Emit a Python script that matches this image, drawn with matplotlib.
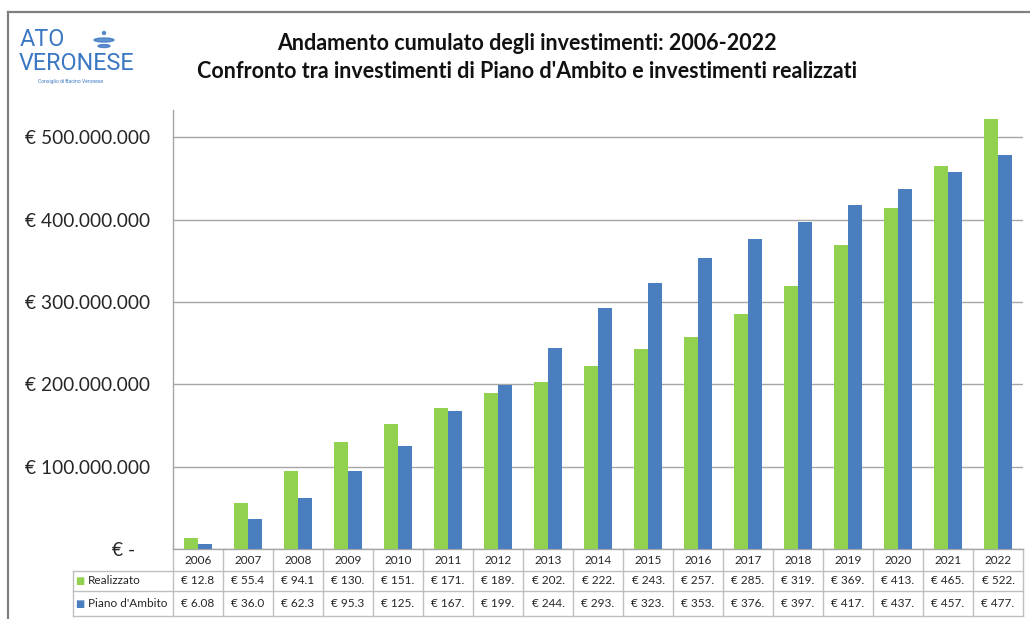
import matplotlib
matplotlib.use("Agg")
import matplotlib.pyplot as plt
from matplotlib.patches import Ellipse
from matplotlib.lines import Line2D
from matplotlib.ticker import FuncFormatter
import numpy as np

# ---- data (millions of euro, cumulative) ----
years = ["2006", "2007", "2008", "2009", "2010", "2011", "2012", "2013", "2014",
         "2015", "2016", "2017", "2018", "2019", "2020", "2021", "2022"]
realizzato = [12.8, 55.4, 94.1, 130.4, 151.2, 171.3, 189.4, 202.6, 222.5,
              243.1, 257.4, 285.2, 319.6, 369.3, 413.5, 465.2, 522.6]
piano = [6.08, 36.0, 62.3, 95.3, 125.6, 167.2, 199.4, 244.3, 293.1,
         323.2, 353.4, 376.1, 397.6, 417.3, 437.4, 457.2, 477.8]
series_names = ["Realizzato", "Piano d'Ambito"]
title_lines = ["Andamento cumulato degli investimenti: 2006-2022",
               "Confronto tra investimenti di Piano d'Ambito e investimenti realizzati"]

GREEN = "#92d050"
BLUE = "#4a7ebf"
GRID = "#a6a6a6"
TBL = "#bfbfbf"
LOGO = "#3b78c2"
TXT = "#262626"

W, H = 1030, 619
fig = plt.figure(figsize=(W / 100, H / 100), dpi=100)
fig.patch.set_facecolor("white")

def fx(px):
    return px / W

def fy(py):
    return 1 - py / H

ax = fig.add_axes([fx(173), fy(549), fx(1023) - fx(173), fy(110) - fy(549)])

x = np.arange(len(years))
bw = 0.285
vals_r = np.array(realizzato) * 1e6
vals_p = np.array(piano) * 1e6
ax.bar(x - bw / 2, vals_r, width=bw, color=GREEN, zorder=3)
ax.bar(x + bw / 2, vals_p, width=bw, color=BLUE, zorder=3)

ax.set_xlim(-0.5, len(years) - 0.5)
ax.set_ylim(0, 533e6)
ax.set_yticks([0, 100e6, 200e6, 300e6, 400e6, 500e6])

def eur(v, pos):
    if v == 0:
        return "€ -   "
    s = f"{int(round(v)):,}".replace(",", ".")
    return "€ " + s

ax.yaxis.set_major_formatter(FuncFormatter(eur))
ax.tick_params(axis="y", length=0, pad=16.5, labelsize=13.8, labelcolor=TXT)
for lab in ax.get_yticklabels():
    lab.set_family("Lato")
ax.set_xticks([])
ax.grid(axis="y", color=GRID, linewidth=1.0, zorder=0)
for s in ["top", "right"]:
    ax.spines[s].set_visible(False)
ax.spines["left"].set_color(GRID)
ax.spines["bottom"].set_color(GRID)
ax.spines["left"].set_linewidth(1.0)
ax.spines["bottom"].set_linewidth(1.0)

# ---- data table below the axis ----
tr = ax.get_xaxis_transform()
ph = 549 - 110
y_hdr = -22 / ph
y_r1 = -42 / ph
y_r2 = -67 / ph
x_lab = -0.5 + (73 - 173) / 50.0
n = len(years)
for k in range(n + 1):
    ax.add_line(Line2D([k - 0.5, k - 0.5], [0, y_r2], transform=tr, color=TBL,
                       lw=1.0, clip_on=False))
ax.add_line(Line2D([x_lab, x_lab], [y_hdr, y_r2], transform=tr, color=TBL, lw=1.0, clip_on=False))
for yy in [y_hdr, y_r1, y_r2]:
    ax.add_line(Line2D([x_lab, n - 0.5], [yy, yy], transform=tr, color=TBL, lw=1.0, clip_on=False))

def cell(v):
    return ("€ " + f"{v:.3f}")[:6]

FS_T = 8.5
for i, yr in enumerate(years):
    ax.text(i, y_hdr / 2, yr, transform=tr, ha="center", va="center", fontsize=FS_T,
            family="Lato", color=TXT, clip_on=False)
    ax.text(i, (y_hdr + y_r1) / 2, cell(realizzato[i]), transform=tr, ha="center",
            va="center", fontsize=FS_T, family="Lato", color=TXT, clip_on=False)
    ax.text(i, (y_r1 + y_r2) / 2, cell(piano[i]), transform=tr, ha="center",
            va="center", fontsize=FS_T, family="Lato", color=TXT, clip_on=False)

for name, col, (ya, yb) in zip(series_names, [GREEN, BLUE], [(y_hdr, y_r1), (y_r1, y_r2)]):
    yc = (ya + yb) / 2
    ax.text(x_lab + 0.04, yc, "■", transform=tr, ha="left", va="center", fontsize=7,
            color=col, family="DejaVu Sans", clip_on=False)
    ax.text(x_lab + 0.30, yc, name, transform=tr, ha="left", va="center", fontsize=FS_T,
            family="Lato", color=TXT, clip_on=False)

# ---- title ----
fig.text(fx(527), fy(43), title_lines[0], ha="center", va="center", fontsize=15.5,
         fontweight="bold", family="Lato", color="#111111")
fig.text(fx(527), fy(72), title_lines[1], ha="center", va="center", fontsize=15.5,
         fontweight="bold", family="Lato", color="#111111")

# ---- logo ----
fig.text(fx(20), fy(40), "ATO", ha="left", va="center", fontsize=16.8, color=LOGO,
         family="Roboto")
fig.text(fx(19), fy(63), "VERONESE", ha="left", va="center", fontsize=16.8, color=LOGO,
         family="Roboto")
fig.text(fx(70), fy(82), "Consiglio di Bacino Veronese", ha="center", va="center",
         fontsize=3.6, color=LOGO, family="Roboto")
for (cx, cy, w, h) in [(104, 40, 20, 4), (104, 46, 12, 3), (104, 33, 3, 3)]:
    fig.patches.append(Ellipse((fx(cx), fy(cy)), fx(w), h / H, color=LOGO,
                               transform=fig.transFigure, alpha=0.8))

# ---- outer frame ----
fig.add_artist(Line2D([fx(8), fx(8)], [fy(12), 0], transform=fig.transFigure,
                      color="#808080", lw=1.6))
fig.add_artist(Line2D([fx(8), 1], [fy(12), fy(12)], transform=fig.transFigure,
                      color="#808080", lw=1.6))

fig.savefig("out.png", dpi=100, facecolor="white")
